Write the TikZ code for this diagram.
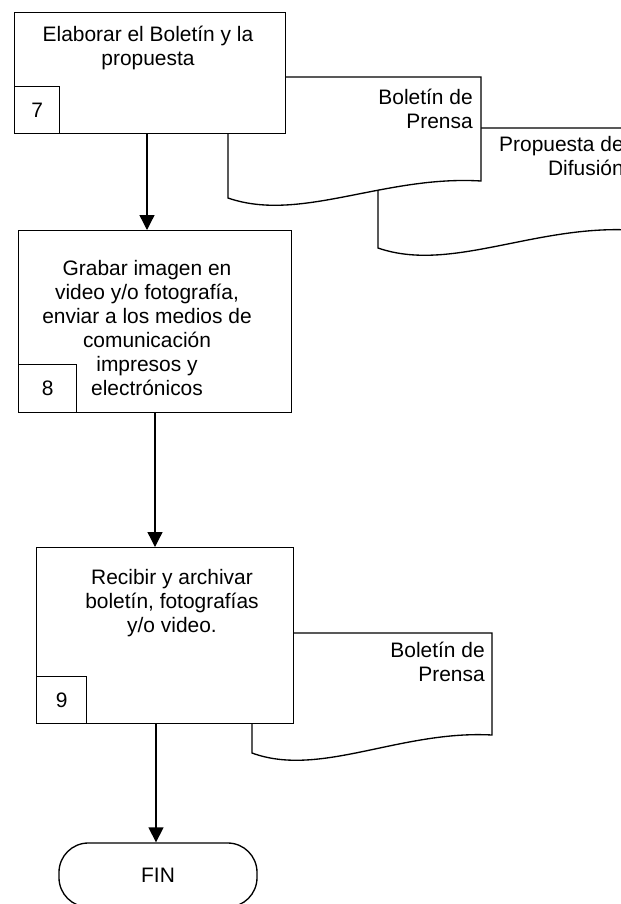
\documentclass[tikz,border=0pt]{standalone}
\usepackage{fontspec}
\setmainfont{Liberation Sans}
\usetikzlibrary{arrows.meta}
\begin{document}
\begin{tikzpicture}[x=0.75pt,y=-0.75pt,
  every node/.style={font=\fontsize{15.7}{18}\selectfont},
  line/.style={line width=1pt},
  stepbox/.style={draw, line width=1pt, fill=white, inner sep=0pt, anchor=north west},
  numbox/.style={draw, line width=1pt, fill=white, inner sep=0pt, anchor=south west},
  txt/.style={inner sep=0pt, align=center},
  doctxt/.style={inner sep=0pt, align=right, anchor=east},
  docshape/.style={draw, line width=1pt, fill=white},
  flow/.style={line width=1pt, -{Triangle[width=11.25pt,length=11.25pt]}},
  terminal/.style={draw, line width=1pt, fill=white, rounded corners=22pt,
    minimum width=148.5pt, minimum height=48pt, inner sep=0pt}]
\useasboundingbox (0,0) rectangle (621,904);

% document symbols attached to step 7 (back one first)
\path[docshape] (378,128) -- (631,128) -- (631,230)
  .. controls (534,225) and (450,273) .. (378,248) -- cycle;
\node[doctxt] (d2) at (624,156) {Propuesta de\\Difusión};
\path[docshape] (228,77) -- (481,77) -- (481,181)
  .. controls (384,175) and (300,223) .. (228,198) -- cycle;
\node[doctxt] (d1) at (473,109) {Boletín de\\Prensa};

% step 7
\node[stepbox, minimum width=203.25pt, minimum height=90.75pt] (n7) at (14,12) {};
\node[numbox, minimum width=33.75pt, minimum height=35.25pt] (k7) at (n7.south west) {7};
\node[txt] (t7) at (148,48) {Elaborar el Boletín y la\\propuesta};

% step 8
\node[stepbox, minimum width=204.75pt, minimum height=136.5pt] (n8) at (18,230) {};
\node[numbox, minimum width=43.5pt, minimum height=36pt] (k8) at (n8.south west) {8};
\node[txt] (t8) at (147,328) {Grabar imagen en\\video y/o fotografía,\\enviar a los medios de\\comunicación\\impresos y\\electrónicos};

% document symbol attached to step 9
\path[docshape] (252,633) -- (492,633) -- (492,735)
  .. controls (400,730) and (320,778) .. (252,753) -- cycle;
\node[doctxt] (d3) at (485,662) {Boletín de\\Prensa};

% step 9
\node[stepbox, minimum width=192.75pt, minimum height=132pt] (n9) at (36,547) {};
\node[numbox, minimum width=37.5pt, minimum height=35.25pt] (k9) at (n9.south west) {9};
\node[txt] (t9) at (172,603) {Recibir y archivar\\boletín, fotografías\\y/o video.};

% end
\node[terminal] (fin) at (158,875) {FIN};

% connectors
\coordinate (a1) at (147,0);
\coordinate (a2) at (155,0);
\coordinate (a3) at (156,0);
\draw[flow] (a1 |- n7.south) -- (a1 |- n8.north);
\draw[flow] (a2 |- n8.south) -- (a2 |- n9.north);
\draw[flow] (a3 |- n9.south) -- (a3 |- fin.north);
\end{tikzpicture}
\end{document}
